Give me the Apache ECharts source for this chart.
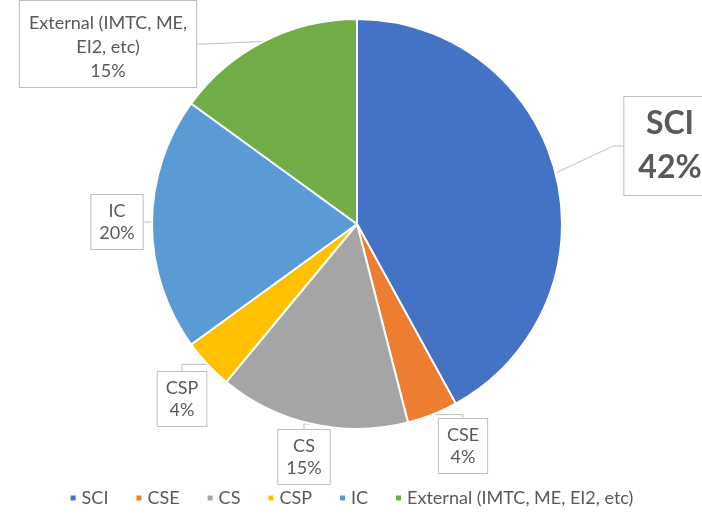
<!DOCTYPE html>
<html>
<head>
<meta charset="utf-8">
<script src="https://cdn.jsdelivr.net/npm/echarts@6/dist/echarts.min.js"></script>
<style>
  html, body { margin: 0; padding: 0; background: #fff; }
  #chart { width: 702px; height: 516px; }
</style>
</head>
<body>
<div id="chart"></div>
<script>
// data
var categories = ['SCI', 'CSE', 'CS', 'CSP', 'IC', 'External (IMTC, ME, EI2, etc)'];
var shares = [42, 4, 15, 4, 20, 15];
var labelNames = ['SCI', 'CSE', 'CS', 'CSP', 'IC', 'External (IMTC, ME,\nEI2, etc)'];
var colors = ['#4472C4', '#ED7D31', '#A5A5A5', '#FFC000', '#5B9BD5', '#70AD47'];

// where each callout box sits (center x, top y)
var boxPos = [[670, 97], [463, 419], [304, 430], [182, 372], [117, 195], [108, 1]];

var myChart = echarts.init(document.getElementById('chart'));

var data = categories.map(function (c, i) {
    var item = { name: c, value: shares[i], itemStyle: { color: colors[i] } };
    var lbl = {
        formatter: labelNames[i] + '\n{c}%'
    };
    if (i === 0) {
        lbl.fontSize = 32;
        lbl.fontWeight = 'bold';
        lbl.lineHeight = 44;
        lbl.padding = [5, 14];
    }
    if (i === 5) {
        lbl.lineHeight = 24;
        lbl.padding = [10, 9, 4, 9];
    }
    item.label = lbl;
    return item;
});

var option = {
    animation: false,
    textStyle: { fontFamily: 'Lato' },
    legend: {
        bottom: 4,
        left: 'center',
        icon: 'rect',
        itemWidth: 7,
        itemHeight: 7,
        itemGap: 26,
        textStyle: { fontSize: 18, color: '#595959', fontFamily: 'Lato' },
        data: categories
    },
    series: [
        {
            type: 'pie',
            center: [357, 224],
            radius: 205,
            startAngle: 90,
            clockwise: true,
            itemStyle: { borderColor: '#fff', borderWidth: 2 },
            label: {
                show: true,
                color: '#595959',
                fontSize: 18,
                lineHeight: 22,
                fontFamily: 'Lato',
                backgroundColor: '#fff',
                borderColor: '#BFBFBF',
                borderWidth: 1,
                padding: [5, 8],
                overflow: 'none',
                align: 'center'
            },
            labelLine: {
                show: true,
                length: 10,
                length2: 10,
                lineStyle: { color: '#BFBFBF', width: 1 }
            },
            labelLayout: function (p) {
                var pos = boxPos[p.dataIndex];
                return { x: pos[0], y: pos[1], align: 'center', verticalAlign: 'top' };
            },
            data: data
        }
    ]
};

option && myChart.setOption(option);
</script>
</body>
</html>
